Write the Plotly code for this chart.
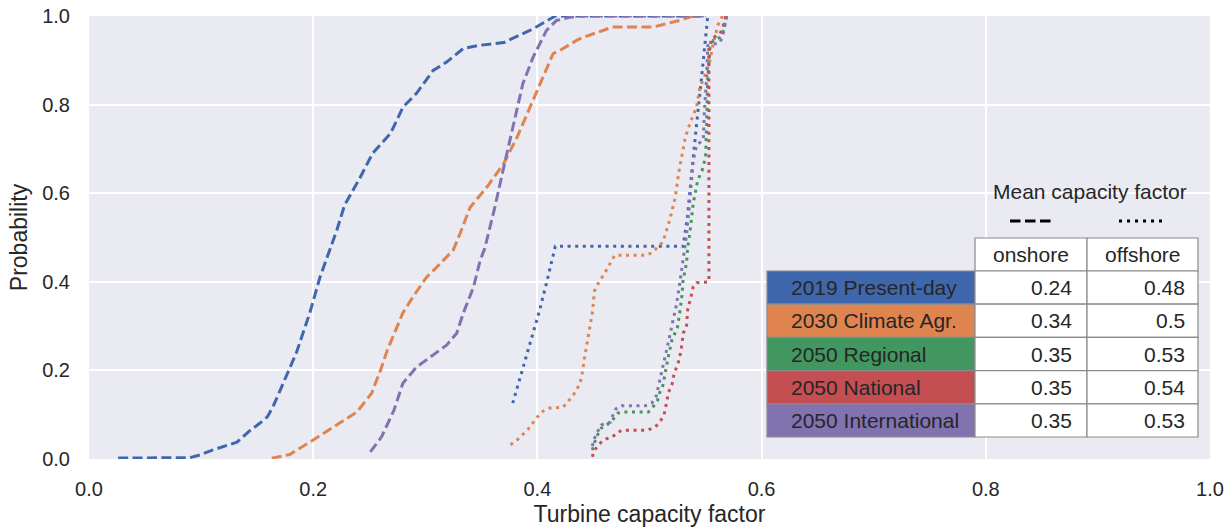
import plotly.graph_objects as go

# ---------------- data ----------------
blue_on_x = [0.026, 0.05, 0.07, 0.09, 0.10, 0.11, 0.132, 0.144, 0.152, 0.159, 0.164, 0.176, 0.185, 0.197, 0.206, 0.221, 0.228, 0.242, 0.253, 0.269, 0.280, 0.292, 0.307, 0.319, 0.334, 0.349, 0.370, 0.396, 0.411, 0.416, 0.55]
blue_on_y = [0.002, 0.002, 0.003, 0.003, 0.01, 0.02, 0.038, 0.065, 0.08, 0.095, 0.117, 0.185, 0.24, 0.33, 0.41, 0.516, 0.573, 0.636, 0.69, 0.735, 0.794, 0.825, 0.877, 0.896, 0.927, 0.934, 0.94, 0.971, 0.994, 1.0, 1.0]

orange_on_x = [0.163, 0.179, 0.2, 0.218, 0.239, 0.252, 0.26, 0.266, 0.272, 0.28, 0.289, 0.301, 0.313, 0.325, 0.331, 0.34, 0.355, 0.37, 0.382, 0.396, 0.405, 0.414, 0.42, 0.435, 0.441, 0.467, 0.503, 0.527, 0.539]
orange_on_y = [0.002, 0.01, 0.043, 0.072, 0.106, 0.148, 0.2, 0.245, 0.283, 0.33, 0.366, 0.41, 0.44, 0.472, 0.509, 0.568, 0.614, 0.667, 0.727, 0.81, 0.862, 0.915, 0.922, 0.945, 0.952, 0.975, 0.975, 0.99, 1.0]

purple_on_x = [0.251, 0.261, 0.272, 0.28, 0.292, 0.304, 0.319, 0.328, 0.334, 0.343, 0.349, 0.353, 0.362, 0.37, 0.378, 0.387, 0.396, 0.408, 0.417, 0.429, 0.44, 0.55]
purple_on_y = [0.016, 0.05, 0.11, 0.171, 0.207, 0.23, 0.257, 0.284, 0.33, 0.388, 0.449, 0.475, 0.568, 0.659, 0.749, 0.847, 0.906, 0.967, 0.99, 0.997, 1.0, 1.0]

blue_off_x = [0.378, 0.384, 0.39, 0.396, 0.402, 0.408, 0.413, 0.416, 0.53, 0.534, 0.537, 0.54, 0.543, 0.546, 0.549, 0.552]
blue_off_y = [0.126, 0.178, 0.23, 0.284, 0.336, 0.396, 0.449, 0.48, 0.48, 0.55, 0.63, 0.71, 0.78, 0.85, 0.93, 1.0]

orange_off_x = [0.376, 0.382, 0.392, 0.4, 0.405, 0.411, 0.423, 0.432, 0.438, 0.44, 0.442, 0.445, 0.449, 0.451, 0.455, 0.459, 0.465, 0.469, 0.496, 0.502, 0.508, 0.512, 0.518, 0.523, 0.526, 0.529, 0.532, 0.536, 0.542, 0.545, 0.549, 0.554, 0.557, 0.561, 0.565]
orange_off_y = [0.032, 0.043, 0.068, 0.095, 0.108, 0.115, 0.117, 0.144, 0.17, 0.194, 0.228, 0.275, 0.33, 0.38, 0.4, 0.415, 0.444, 0.46, 0.46, 0.465, 0.48, 0.49, 0.539, 0.591, 0.645, 0.69, 0.727, 0.757, 0.795, 0.84, 0.862, 0.9, 0.94, 0.979, 1.0]

green_off_x = [0.449, 0.451, 0.454, 0.457, 0.462, 0.467, 0.472, 0.478, 0.499, 0.503, 0.507, 0.509, 0.512, 0.514, 0.517, 0.52, 0.525, 0.527, 0.529, 0.53, 0.533, 0.534, 0.536, 0.539, 0.543, 0.547, 0.55, 0.551, 0.552, 0.554, 0.557, 0.563, 0.566, 0.568, 0.569]
green_off_y = [0.02, 0.038, 0.056, 0.07, 0.077, 0.088, 0.104, 0.106, 0.106, 0.117, 0.131, 0.149, 0.167, 0.196, 0.234, 0.268, 0.298, 0.331, 0.37, 0.404, 0.442, 0.476, 0.51, 0.577, 0.629, 0.652, 0.681, 0.757, 0.862, 0.93, 0.945, 0.952, 0.968, 0.993, 1.0]

red_off_x = [0.449, 0.451, 0.456, 0.461, 0.467, 0.472, 0.476, 0.498, 0.505, 0.509, 0.513, 0.516, 0.517, 0.52, 0.522, 0.525, 0.527, 0.529, 0.53, 0.533, 0.534, 0.537, 0.539, 0.542, 0.552, 0.553, 0.553, 0.556, 0.563, 0.566, 0.568]
red_off_y = [0.005, 0.02, 0.036, 0.045, 0.05, 0.061, 0.065, 0.065, 0.072, 0.083, 0.099, 0.133, 0.151, 0.167, 0.194, 0.212, 0.23, 0.26, 0.284, 0.298, 0.336, 0.366, 0.388, 0.398, 0.4, 0.4, 0.93, 0.95, 0.96, 0.98, 1.0]

purple_off_x = [0.449, 0.451, 0.454, 0.457, 0.465, 0.467, 0.47, 0.475, 0.496, 0.502, 0.506, 0.509, 0.512, 0.515, 0.518, 0.521, 0.524, 0.527, 0.529, 0.531, 0.533, 0.536, 0.539, 0.542, 0.548, 0.549, 0.551, 0.552, 0.563, 0.566, 0.568, 0.569]
purple_off_y = [0.029, 0.047, 0.063, 0.077, 0.083, 0.097, 0.113, 0.12, 0.12, 0.126, 0.142, 0.174, 0.207, 0.241, 0.277, 0.313, 0.347, 0.397, 0.437, 0.466, 0.505, 0.584, 0.674, 0.708, 0.721, 0.787, 0.862, 0.933, 0.94, 0.963, 0.99, 1.0]

scenarios = ["2019 Present-day", "2030 Climate Agr.", "2050 Regional", "2050 National", "2050 International"]
mean_onshore = ["0.24", "0.34", "0.35", "0.35", "0.35"]
mean_offshore = ["0.48", "0.5", "0.53", "0.54", "0.53"]
col_headers = ["onshore", "offshore"]
x_ticks = [0.0, 0.2, 0.4, 0.6, 0.8, 1.0]
y_ticks = [0.0, 0.2, 0.4, 0.6, 0.8, 1.0]

# ---------------- styles ----------------
colors = ["#3F67AD", "#E0844F", "#41975F", "#C44E52", "#8172B0"]
TXT = "#262626"
FONT = "Liberation Sans, Arial, sans-serif"
LW = 3.0
DASH = "10px,4.4px"
DOT = "3px,4.6px"

fig = go.Figure()

def add(xs, ys, color, dash):
    fig.add_trace(go.Scatter(x=xs, y=ys, mode="lines",
                             line=dict(color=color, width=LW, dash=dash),
                             showlegend=False, hoverinfo="skip"))

add(blue_on_x, blue_on_y, colors[0], DASH)
add(blue_off_x, blue_off_y, colors[0], DOT)
add(orange_on_x, orange_on_y, colors[1], DASH)
add(orange_off_x, orange_off_y, colors[1], DOT)
add(green_off_x, green_off_y, colors[2], DOT)
add(red_off_x, red_off_y, colors[3], DOT)
add(purple_on_x, purple_on_y, colors[4], DASH)
add(purple_off_x, purple_off_y, colors[4], DOT)

# ---------------- layout geometry ----------------
L, R, T, B = 89, 22, 16, 71
W, H = 1232, 530
PW, PH = W - L - R, H - T - B

def px(x):
    return (x - L) / PW

def py(y):
    return (H - B - y) / PH

shapes = []
annots = []
EDGE = "#8a8a8a"

# table geometry (pixels)
c0, c1, c2, c3 = 767, 975, 1087, 1198
hdr_top, row_top, row_h = 238, 271, 33.2

def cell(x0, x1, y0, y1, fill):
    shapes.append(dict(type="rect", xref="paper", yref="paper",
                       x0=px(x0), x1=px(x1), y0=py(y1), y1=py(y0),
                       fillcolor=fill, line=dict(color=EDGE, width=1.2), layer="above"))

def text(x, y, s, anchor):
    annots.append(dict(xref="paper", yref="paper", x=px(x), y=py(y), text=s,
                       showarrow=False, xanchor=anchor, yanchor="middle",
                       font=dict(family=FONT, size=21, color=TXT)))

# header
cell(c1, c2, hdr_top, row_top, "white")
cell(c2, c3, hdr_top, row_top, "white")
text((c1 + c2) / 2, (hdr_top + row_top) / 2, col_headers[0], "center")
text((c2 + c3) / 2, (hdr_top + row_top) / 2, col_headers[1], "center")

for i, (name, on, off) in enumerate(zip(scenarios, mean_onshore, mean_offshore)):
    y0 = row_top + i * row_h
    y1 = y0 + row_h
    cell(c0, c1, y0, y1, colors[i])
    cell(c1, c2, y0, y1, "white")
    cell(c2, c3, y0, y1, "white")
    ym = (y0 + y1) / 2
    text(c0 + 22, ym, name, "left")
    text(c2 - 13, ym, on, "right")
    text(c3 - 11, ym, off, "right")

text(1090, 191, "Mean capacity factor", "center")
shapes.append(dict(type="line", xref="paper", yref="paper", x0=px(1010), x1=px(1053),
                   y0=py(221), y1=py(221), line=dict(color="black", width=2.8, dash="10.5px,4.5px")))
shapes.append(dict(type="line", xref="paper", yref="paper", x0=px(1119), x1=px(1163),
                   y0=py(221), y1=py(221), line=dict(color="black", width=2.8, dash="3px,5px")))

axis_common = dict(range=[0, 1], showgrid=True, gridcolor="white", gridwidth=1.8,
                   zeroline=False, showline=False, ticks="outside", tickcolor="rgba(0,0,0,0)",
                   tickformat=".1f", automargin=False,
                   tickfont=dict(family=FONT, size=20, color=TXT))

fig.update_layout(
    width=W, height=H,
    margin=dict(l=L, r=R, t=T, b=B, pad=0, autoexpand=False),
    paper_bgcolor="white", plot_bgcolor="#EAEAF2",
    xaxis=dict(**axis_common, tickvals=x_ticks, ticklen=12,
               title=dict(text="Turbine capacity factor", standoff=6,
                          font=dict(family=FONT, size=23, color=TXT))),
    yaxis=dict(**axis_common, tickvals=y_ticks, ticklen=14,
               title=dict(text="Probability", standoff=8,
                          font=dict(family=FONT, size=23, color=TXT))),
    shapes=shapes, annotations=annots,
)

fig.write_html("out.html", config={"displayModeBar": False},
               post_script="document.body.style.margin='0';document.body.style.overflow='hidden';")
